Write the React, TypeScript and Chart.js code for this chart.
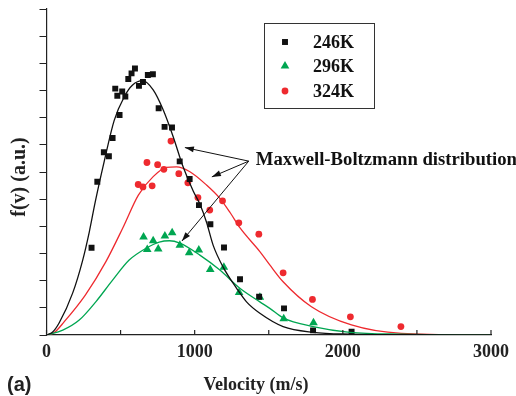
import React, { useEffect, useRef } from 'react';
import { Chart, registerables } from 'chart.js';

Chart.register(...registerables);

// ---------- data ----------
const seriesNames = ['246K', '296K', '324K'];
const xTickLabels = [0, 1000, 2000, 3000];

// measured points (velocity m/s, f(v) a.u.)
const v246 = [304, 343, 387, 421, 446, 464, 478, 493, 511, 532, 552, 574, 597, 624, 651, 684, 718, 757, 797, 847, 899, 966, 1029, 1106, 1198, 1306, 1435, 1603, 1799, 2059];
const f246 = [3.21, 5.64, 6.73, 6.58, 7.25, 9.07, 8.81, 8.10, 8.96, 8.78, 9.42, 9.63, 9.81, 9.17, 9.31, 9.57, 9.60, 8.35, 7.66, 7.64, 6.39, 5.74, 4.78, 4.08, 3.22, 2.05, 1.41, 0.98, 0.17, 0.12];

const v296 = [655, 680, 720, 754, 799, 848, 900, 963, 1028, 1105, 1197, 1300, 1440, 1601, 1802];
const f296 = [3.61, 3.15, 3.47, 3.17, 3.64, 3.76, 3.30, 3.03, 3.13, 2.41, 2.49, 1.56, 1.39, 0.60, 0.45];

const v324 = [619, 651, 678, 713, 750, 792, 840, 893, 954, 1022, 1102, 1188, 1298, 1433, 1597, 1795, 2051, 2392];
const f324 = [5.54, 5.45, 6.35, 5.49, 6.27, 6.10, 7.14, 5.94, 5.60, 5.06, 4.60, 4.94, 4.13, 3.71, 2.29, 1.31, 0.67, 0.31];

// Maxwell-Boltzmann fit curves
const cv246 = [0, 40, 86, 177, 244, 289, 329, 390, 457, 525, 581, 649, 720, 788, 855, 922, 990, 1035, 1080, 1125, 1192, 1283, 1350, 1440, 1597, 1799, 2047, 2400, 3000];
const cf246 = [0, 0.1, 0.45, 1.55, 2.75, 3.8, 4.9, 6.4, 7.9, 8.77, 9.2, 9.36, 9.02, 8.28, 7.3, 6.19, 5.3, 4.82, 4.15, 3.3, 2.5, 1.72, 1.22, 0.8, 0.31, 0.1, 0.03, 0.01, 0];

const cv296 = [0, 110, 221, 334, 446, 558, 671, 761, 830, 900, 1035, 1170, 1305, 1440, 1507, 1597, 1799, 2047, 2404, 3000];
const cf296 = [0, 0.18, 0.55, 1.23, 2.02, 2.76, 3.19, 3.42, 3.47, 3.38, 2.94, 2.39, 1.72, 1.22, 0.98, 0.63, 0.31, 0.1, 0.03, 0];

const cv324 = [0, 50, 120, 262, 401, 514, 620, 720, 810, 878, 968, 1080, 1170, 1240, 1305, 1440, 1507, 1597, 1788, 2058, 2395, 3000];
const cf324 = [0, 0.08, 0.49, 1.47, 2.7, 3.93, 5.15, 5.83, 6.17, 6.19, 6.01, 5.52, 5.03, 4.5, 3.95, 3.07, 2.58, 1.96, 1.04, 0.37, 0.06, 0];

// annotation (data coordinates)
const annotationText = 'Maxwell-Boltzmann distribution';
const annotationAt = { v: 1413, f: 6.44 };
const arrowFrom = { v: 1365, f: 6.4 };
const arrowTargets = [
  { v: 934, f: 6.9 },
  { v: 1116, f: 5.82 },
  { v: 914, f: 3.46 },
];

const colors = {
  black: '#111111',
  green: '#00a651',
  red: '#ee2a2f',
  axis: '#222222',
};

const SERIF = "'Liberation Serif', 'Times New Roman', serif";

const pts = (xs: number[], ys: number[]) => xs.map((x, i) => ({ x, y: ys[i] }));

function drawMarker(ctx: CanvasRenderingContext2D, style: string, r: number, x: number, y: number) {
  ctx.beginPath();
  if (style === 'rect') {
    const s = r * Math.SQRT1_2;
    ctx.rect(x - s, y - s, 2 * s, 2 * s);
  } else if (style === 'triangle') {
    for (let k = 0; k < 3; k++) {
      const a = (k * 2 * Math.PI) / 3;
      const px = x + Math.sin(a) * r;
      const py = y - Math.cos(a) * r;
      if (k === 0) ctx.moveTo(px, py); else ctx.lineTo(px, py);
    }
    ctx.closePath();
  } else {
    ctx.arc(x, y, r, 0, Math.PI * 2);
  }
  ctx.fill();
}

const overlayPlugin = {
  id: 'overlay',
  afterDraw(chart: any) {
    const { ctx, chartArea, scales } = chart;
    const xs = scales.x;
    const ys = scales.y;
    ctx.save();

    // inward x ticks every 500
    ctx.strokeStyle = colors.axis;
    ctx.lineWidth = 1.2;
    for (let v = 0; v <= 3000; v += 500) {
      const px = xs.getPixelForValue(v);
      ctx.beginPath();
      ctx.moveTo(px, chartArea.bottom);
      ctx.lineTo(px, chartArea.bottom - 5);
      ctx.stroke();
    }

    // arrows
    const fx = xs.getPixelForValue(arrowFrom.v);
    const fy = ys.getPixelForValue(arrowFrom.f);
    ctx.strokeStyle = '#111';
    ctx.fillStyle = '#111';
    ctx.lineWidth = 1;
    arrowTargets.forEach((t) => {
      const tx = xs.getPixelForValue(t.v);
      const ty = ys.getPixelForValue(t.f);
      ctx.beginPath();
      ctx.moveTo(fx, fy);
      ctx.lineTo(tx, ty);
      ctx.stroke();
      const ang = Math.atan2(ty - fy, tx - fx);
      const L = 9, W = 3;
      ctx.beginPath();
      ctx.moveTo(tx, ty);
      ctx.lineTo(tx - L * Math.cos(ang) + W * Math.sin(ang), ty - L * Math.sin(ang) - W * Math.cos(ang));
      ctx.lineTo(tx - L * Math.cos(ang) - W * Math.sin(ang), ty - L * Math.sin(ang) + W * Math.cos(ang));
      ctx.closePath();
      ctx.fill();
    });

    // annotation text
    ctx.fillStyle = '#111';
    ctx.font = `bold 18.7px ${SERIF}`;
    ctx.textAlign = 'left';
    ctx.textBaseline = 'middle';
    ctx.fillText(annotationText, xs.getPixelForValue(annotationAt.v), ys.getPixelForValue(annotationAt.f));

    // legend
    const lx = 264, ly = 23, lw = 110, lh = 85;
    ctx.strokeStyle = '#333';
    ctx.lineWidth = 1;
    ctx.strokeRect(lx + 0.5, ly + 0.5, lw, lh);
    const legendRows = [
      { name: seriesNames[0], style: 'rect', color: colors.black, r: 4.2 },
      { name: seriesNames[1], style: 'triangle', color: colors.green, r: 5 },
      { name: seriesNames[2], style: 'circle', color: colors.red, r: 3.4 },
    ];
    const rowY = [42, 66, 91];
    legendRows.forEach((row, i) => {
      ctx.fillStyle = row.color;
      drawMarker(ctx, row.style, row.r, 285, rowY[i]);
      ctx.fillStyle = '#111';
      ctx.font = `bold 18px ${SERIF}`;
      ctx.textAlign = 'left';
      ctx.textBaseline = 'middle';
      ctx.fillText(row.name, 313, rowY[i] + 1);
    });

    // axis titles
    ctx.fillStyle = '#222';
    ctx.font = `bold 18px ${SERIF}`;
    ctx.textAlign = 'center';
    ctx.textBaseline = 'middle';
    ctx.fillText('Velocity (m/s)', 256, 385);

    ctx.save();
    ctx.translate(20, 177);
    ctx.rotate(-Math.PI / 2);
    ctx.font = `bold 20px ${SERIF}`;
    ctx.fillText('f(v) (a.u.)', 0, 0);
    ctx.restore();

    ctx.font = "bold 20px 'Liberation Sans', Arial, sans-serif";
    ctx.textAlign = 'left';
    ctx.fillText('(a)', 7, 385);

    ctx.restore();
  },
};

export default function App() {
  const ref = useRef<HTMLCanvasElement | null>(null);

  useEffect(() => {
    document.body.style.margin = '0';
    const canvas = ref.current;
    if (!canvas) return;
    const chart = new Chart(canvas, {
      type: 'scatter',
      data: {
        datasets: [
          {
            label: seriesNames[0] + ' fit',
            data: pts(cv246, cf246),
            showLine: true,
            borderColor: colors.black,
            borderWidth: 1.3,
            pointRadius: 0,
            cubicInterpolationMode: 'monotone',
          },
          {
            label: seriesNames[1] + ' fit',
            data: pts(cv296, cf296),
            showLine: true,
            borderColor: colors.green,
            borderWidth: 1.3,
            pointRadius: 0,
            cubicInterpolationMode: 'monotone',
          },
          {
            label: seriesNames[2] + ' fit',
            data: pts(cv324, cf324),
            showLine: true,
            borderColor: colors.red,
            borderWidth: 1.3,
            pointRadius: 0,
            cubicInterpolationMode: 'monotone',
          },
          {
            label: seriesNames[0],
            data: pts(v246, f246),
            pointStyle: 'rect',
            pointRadius: 4.2,
            backgroundColor: colors.black,
            borderWidth: 0,
          },
          {
            label: seriesNames[1],
            data: pts(v296, f296),
            pointStyle: 'triangle',
            pointRadius: 5,
            backgroundColor: colors.green,
            borderWidth: 0,
          },
          {
            label: seriesNames[2],
            data: pts(v324, f324),
            pointStyle: 'circle',
            pointRadius: 3.4,
            backgroundColor: colors.red,
            borderWidth: 0,
          },
        ],
      },
      options: {
        animation: false,
        responsive: false,
        devicePixelRatio: 1,
        layout: { padding: { top: 9, right: 24.5, left: 0, bottom: 0 } },
        plugins: { legend: { display: false }, tooltip: { enabled: false } },
        scales: {
          x: {
            type: 'linear',
            min: 0,
            max: 3000,
            afterFit: (s: any) => { s.height = 61; },
            afterBuildTicks: (s: any) => {
              s.ticks = xTickLabels.map((v) => ({ value: v }));
            },
            ticks: {
              autoSkip: false,
              maxRotation: 0,
              padding: 7,
              color: '#222',
              font: { family: SERIF, size: 18, weight: 'bold' },
              callback: (v: any) => String(v),
            },
            grid: { display: true, drawOnChartArea: false, drawTicks: false },
            border: { color: colors.axis, width: 1.2 },
          },
          y: {
            type: 'linear',
            min: 0,
            max: 12,
            afterFit: (s: any) => { s.width = 46.5; },
            ticks: { stepSize: 1, display: false },
            grid: { display: true, drawOnChartArea: false, drawTicks: true, tickLength: 7, color: colors.axis, lineWidth: 1 },
            border: { color: colors.axis, width: 1.2 },
          },
        },
      },
      plugins: [overlayPlugin],
    });
    return () => chart.destroy();
  }, []);

  return <canvas ref={ref} width={516} height={396} style={{ display: 'block' }} />;
}
